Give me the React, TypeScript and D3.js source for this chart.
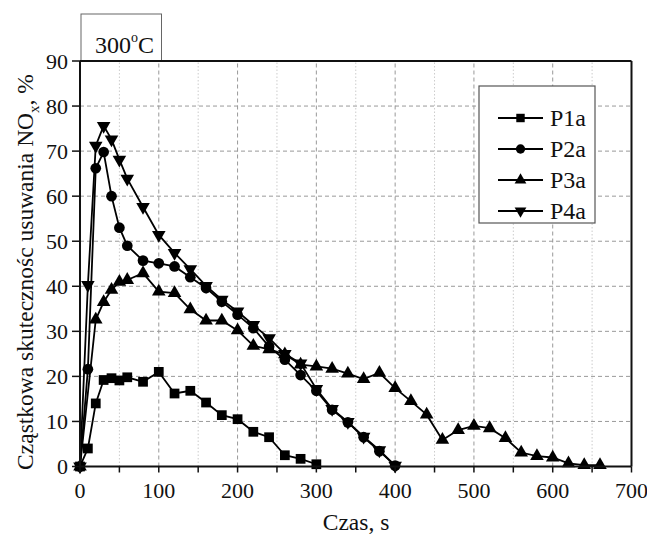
import React from "react";
import * as d3 from "d3";

const xTicks = [0, 100, 200, 300, 400, 500, 600, 700];
const xMinor = [50, 150, 250, 350, 450, 550, 650];
const yTicks = [0, 10, 20, 30, 40, 50, 60, 70, 80, 90];

const seriesNames = ["P1a", "P2a", "P3a", "P4a"];

const p1x = [0, 10, 20, 30, 40, 50, 60, 80, 100, 120, 140, 160, 180, 200, 220, 240, 260, 280, 300];
const p1y = [0, 4, 14, 19.2, 19.6, 19.1, 19.8, 18.8, 21, 16.2, 16.8, 14.2, 11.4, 10.5, 7.7, 6.5, 2.5, 1.7, 0.5];

const p2x = [0, 10, 20, 30, 40, 50, 60, 80, 100, 120, 140, 160, 180, 200, 220, 240, 260, 280, 300, 320, 340, 360, 380, 400];
const p2y = [0, 21.6, 66.2, 69.8, 60, 53, 49, 45.7, 45.1, 44.4, 42, 39.6, 36.6, 33.7, 30.7, 26.6, 23.7, 20.3, 16.8, 12.6, 9.8, 6.5, 3.4, 0.2];

const p3x = [0, 20, 30, 40, 50, 60, 80, 100, 120, 140, 160, 180, 200, 220, 240, 260, 280, 300, 320, 340, 360, 380, 400, 420, 440, 460, 480, 500, 520, 540, 560, 580, 600, 620, 640, 660];
const p3y = [0, 32.6, 36.5, 39.2, 41, 41.4, 42.9, 38.8, 38.5, 34.9, 32.4, 32.4, 30.2, 26.8, 26, 24.9, 22.6, 22.2, 21.7, 20.6, 19.4, 20.8, 17.4, 14.5, 11.5, 5.9, 8.1, 9.0, 8.5, 6.3, 3.1, 2.3, 2.0, 0.7, 0.3, 0.3];

const p4x = [0, 10, 20, 30, 40, 50, 60, 80, 100, 120, 140, 160, 180, 200, 220, 240, 260, 280, 300, 320, 340, 360, 380, 400];
const p4y = [0, 40.3, 71.2, 75.6, 72.6, 68.1, 63.9, 57.6, 51.4, 47.4, 43.8, 40.1, 37, 34.4, 31.4, 28.5, 25, 22.9, 17.2, 12.8, 9.9, 6.6, 3.6, 0.2];

const font = "'Liberation Serif', 'Times New Roman', serif";

export default function App() {
  const W = 647, H = 543;
  const x = d3.scaleLinear().domain([0, 700]).range([80, 631.5]);
  const y = d3.scaleLinear().domain([0, 90]).range([466.5, 61]);

  const series = [
    { name: seriesNames[0], xs: p1x, ys: p1y, sym: d3.symbolSquare, size: 95, rot: 0 },
    { name: seriesNames[1], xs: p2x, ys: p2y, sym: d3.symbolCircle, size: 90, rot: 0 },
    { name: seriesNames[2], xs: p3x, ys: p3y, sym: d3.symbolTriangle, size: 80, rot: 0 },
    { name: seriesNames[3], xs: p4x, ys: p4y, sym: d3.symbolTriangle, size: 80, rot: 180 },
  ];

  const line = d3.line<[number, number]>().x(d => x(d[0])).y(d => y(d[1]));

  const legendX0 = 479, legendY0 = 86, legendW = 116, legendH = 137;
  const legendRows = [118, 149, 180, 211];

  return (
    <svg width={W} height={H} style={{ position: "absolute", left: 0, top: 0, background: "#fff" }} fontFamily={font}>
      <rect x={0} y={0} width={W} height={H} fill="#fff" />
      {/* grid */}
      {yTicks.filter(t => t > 0 && t < 90).map(t => (
        <line key={"gy" + t} x1={x(0)} x2={x(700)} y1={y(t)} y2={y(t)} stroke="#999" strokeWidth={1} strokeDasharray="4,3" />
      ))}
      {xTicks.filter(t => t > 0 && t < 700).map(t => (
        <line key={"gx" + t} x1={x(t)} x2={x(t)} y1={y(0)} y2={y(90)} stroke="#999" strokeWidth={1} strokeDasharray="4,3" />
      ))}
      {xMinor.map(t => (
        <line key={"gxm" + t} x1={x(t)} x2={x(t)} y1={y(0)} y2={y(90)} stroke="#ccc" strokeWidth={1} strokeDasharray="1.5,2" />
      ))}

      {/* title box */}
      <rect x={81} y={14} width={80.5} height={47} fill="#fff" stroke="#666" strokeWidth={1} />
      <text x={95} y={53} fontSize={24} fill="#111">300<tspan fontSize={14} dy={-11}>o</tspan><tspan dy={11}>C</tspan></text>

      {/* series */}
      {series.map(s => {
        const pts: [number, number][] = s.xs.map((v, i) => [v, s.ys[i]]);
        const sym = d3.symbol().type(s.sym).size(s.size)();
        return (
          <g key={s.name}>
            <path d={line(pts) || ""} fill="none" stroke="#000" strokeWidth={1.8} />
            {pts.map((p, i) => (
              <path key={i} d={sym || ""} transform={`translate(${x(p[0])},${y(p[1])}) rotate(${s.rot})`} fill="#000" />
            ))}
          </g>
        );
      })}

      {/* axes frame */}
      <line x1={x(0)} x2={x(700)} y1={y(0)} y2={y(0)} stroke="#111" strokeWidth={2} />
      <line x1={x(0)} x2={x(0)} y1={y(0)} y2={y(90)} stroke="#111" strokeWidth={2} />
      <line x1={x(0)} x2={x(700)} y1={y(90)} y2={y(90)} stroke="#111" strokeWidth={2} />
      <line x1={x(700)} x2={x(700)} y1={y(0)} y2={y(90)} stroke="#111" strokeWidth={2} />

      {/* x ticks */}
      {xTicks.concat(xMinor).map(t => (
        <line key={"xt" + t} x1={x(t)} x2={x(t)} y1={y(0)} y2={y(0) + 6} stroke="#111" strokeWidth={1.5} />
      ))}
      {xTicks.map(t => (
        <text key={"xl" + t} x={x(t)} y={498} textAnchor="middle" fontSize={22} fill="#111">{t}</text>
      ))}
      {/* y ticks */}
      {yTicks.map(t => (
        <line key={"yt" + t} x1={x(0) - 8} x2={x(0)} y1={y(t)} y2={y(t)} stroke="#111" strokeWidth={1.5} />
      ))}
      {yTicks.map(t => (
        <text key={"yl" + t} x={68} y={y(t)} dy="0.35em" textAnchor="end" fontSize={22} fill="#111">{t}</text>
      ))}

      {/* axis labels */}
      <text x={356} y={530} textAnchor="middle" fontSize={23.5} fill="#111">Czas, s</text>
      <text transform={`translate(33,272) rotate(-90)`} textAnchor="middle" fontSize={23.5} fill="#111">
        Cząstkowa skutecznośc usuwania NO<tspan fontSize={15} dy={6}>x</tspan><tspan dy={-6}>, %</tspan>
      </text>

      {/* legend */}
      <rect x={legendX0} y={legendY0} width={legendW} height={legendH} fill="#fff" stroke="#555" strokeWidth={1.2} />
      {series.map((s, i) => {
        const sym = d3.symbol().type(s.sym).size(s.size * 0.75)();
        const cy = legendRows[i];
        return (
          <g key={"lg" + s.name}>
            <line x1={498} x2={543} y1={cy} y2={cy} stroke="#000" strokeWidth={1.8} />
            <path d={sym || ""} transform={`translate(520.5,${cy}) rotate(${s.rot})`} fill="#000" />
            <text x={550} y={cy} dy="0.35em" fontSize={24} fill="#111">{s.name}</text>
          </g>
        );
      })}
    </svg>
  );
}
